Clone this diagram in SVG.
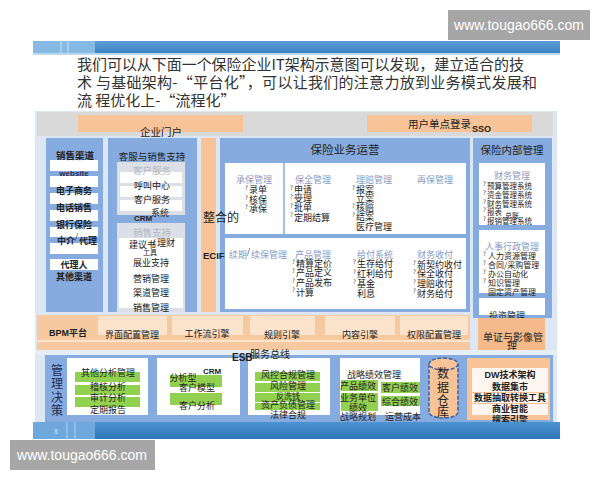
<svg xmlns="http://www.w3.org/2000/svg" width="600" height="480" viewBox="0 0 600 480">
<defs>
<linearGradient id="hdr" x1="0" y1="0" x2="0" y2="1"><stop offset="0" stop-color="#5c9fd8"/><stop offset="1" stop-color="#3a83c5"/></linearGradient>
<linearGradient id="ftr" x1="0" y1="0" x2="0" y2="1"><stop offset="0" stop-color="#4b93d0"/><stop offset="1" stop-color="#2f76b8"/></linearGradient>
</defs>
<style>
text{font-family:"Noto Sans CJK SC","Liberation Sans",sans-serif;fill:#222;font-size:9px}
.c{text-anchor:middle}
.lat{font-family:"Liberation Sans","Noto Sans CJK SC",sans-serif;font-weight:bold}
.blue{fill:#86abdf}
.org{fill:#f8c497}
.wh{fill:#fff}
.lg{fill:#fce3cc}
.grn{fill:#92d050}
.sub{fill:#8a9ac4}
.q{font-size:6px;fill:#333}
.b{font-weight:bold}
.wm{font-family:"Liberation Sans",sans-serif;font-size:14px;fill:#fff}
.ttl{font-size:15px;fill:#333}
</style>
<rect width="600" height="480" fill="#fff"/>

<g id="watermark-top"><rect x="448" y="10" width="142" height="30" fill="#a6a6a6"/><text class="wm c" x="519" y="30">www.tougao666.com</text></g>
<g id="header-bar"><rect x="33" y="41" width="527" height="12" fill="url(#hdr)"/><rect x="33" y="41" width="62" height="12" fill="#86b9e3"/><rect x="60" y="41" width="2" height="12" fill="#a9cdec"/><rect x="67" y="41" width="2" height="12" fill="#a9cdec"/><rect x="33" y="53" width="527" height="2" fill="#bcd8ef"/></g>

<g id="title">
<text class="ttl" x="77" y="70" textLength="447">我们可以从下面一个保险企业IT架构示意图可以发现，建立适合的技</text>
<text class="ttl" x="77" y="88" textLength="460">术 与基础架构-“平台化”，可以让我们的注意力放到业务模式发展和</text>
<text class="ttl" x="77" y="106">流 程优化上-“流程化”</text>
</g>

<rect x="35" y="111" width="522" height="312" fill="#dde7f4"/>
<rect x="37" y="112" width="516" height="24" fill="#d9d9d9"/>

<g id="portal"><rect x="78" y="115" width="165" height="17" class="org"/><text class="c" x="161" y="136" style="font-size:10.5px">企业门户</text></g>
<g id="sso"><rect x="367" y="115" width="165" height="17" class="org"/><text x="408" y="128" style="font-size:10.5px">用户单点登录</text><text class="lat" x="472" y="132" style="font-size:9px">SSO</text></g>

<g id="sales-channels">
<rect x="46" y="138" width="57" height="174" class="blue"/>
<rect x="50" y="160" width="48" height="11" class="wh"/>
<rect x="50" y="176" width="48" height="11" class="wh"/>
<rect x="50" y="193" width="48" height="11" class="wh"/>
<rect x="50" y="210" width="48" height="11" class="wh"/>
<rect x="50" y="227" width="48" height="10" class="wh"/>
<rect x="50" y="243" width="48" height="11" class="wh"/>
<rect x="50" y="259" width="48" height="11" class="wh"/>
<text class="c b" x="75" y="159" style="font-size:9.5px">销售渠道</text>
<text class="c lat" x="74" y="176" style="font-size:8px;fill:#2a2a4a">website</text>
<text class="c b" x="74" y="194">电子商务</text>
<text class="c b" x="74" y="211">电话销售</text>
<text class="c b" x="74" y="228">银行保险</text>
<text class="b" x="57" y="244">中介</text><text x="75" y="239" style="font-size:8px">/</text><text class="b" x="79" y="244">代理</text>
<text class="c b" x="74" y="268">代理人</text>
<text class="c b" x="74" y="280">其他渠道</text>
</g>

<g id="service-support">
<rect x="108" y="138" width="89" height="174" class="blue"/>
<text class="c" x="152" y="160" style="font-size:9.5px">客服与销售支持</text>
<rect x="117" y="162" width="68" height="53" fill="#dcdfe6"/>
<rect x="120" y="172" width="62" height="11" class="wh"/>
<rect x="120" y="186" width="62" height="11" class="wh"/>
<rect x="120" y="200" width="62" height="11" class="wh"/>
<text class="c" x="152" y="174" style="font-size:9.5px;fill:#b3b7c4">客户服务</text>
<text class="c" x="152" y="189">呼叫中心</text>
<text class="c" x="152" y="203">客户服务</text>
<text x="151" y="216">系统</text>
<text class="lat" x="134" y="221" style="font-size:8px">CRM</text>
<rect x="117" y="223" width="68" height="89" fill="#dcdfe6"/>
<text class="c" x="152" y="236" style="font-size:9.5px;fill:#b3b7c4">销售支持</text>
<rect x="119" y="238" width="64" height="70" class="wh"/>
<text x="129" y="248">建议书</text><text x="152" y="246" style="font-size:9px">/</text><text x="143" y="255" style="font-size:7px">工具</text><text x="157" y="246">理财</text>
<text class="c" x="151" y="266">展业支持</text>
<text class="c" x="151" y="282">营销管理</text>
<text class="c" x="151" y="296">渠道管理</text>
<text class="c" x="151" y="311">销售管理</text>
</g>

<g id="ecif-strip">
<rect x="201" y="138" width="15" height="174" class="org"/>
</g>

<g id="insurance-operations">
<rect x="220" y="138" width="250" height="174" class="blue"/>
<text class="c" x="345" y="154" style="font-size:11.5px">保险业务运营</text>
<rect x="225" y="163" width="241" height="71" class="wh"/>
<line x1="284" y1="163" x2="284" y2="234" stroke="#86abdf" stroke-width="1.5"/>
<rect x="225" y="238" width="241" height="71" class="wh"/>

<text class="c sub" x="254" y="183">承保管理</text>
<text class="q" x="245" y="190">?</text><text x="249" y="193">录单</text>
<text class="q" x="245" y="200">?</text><text x="249" y="203">核保</text>
<text class="q" x="245" y="209">?</text><text x="249" y="212">承保</text>

<text class="c sub" x="313" y="183">保全管理</text>
<text class="q" x="290" y="190">?</text><text x="294" y="193">申请</text>
<text class="q" x="290" y="199">?</text><text x="294" y="202">受理</text>
<text class="q" x="290" y="208">?</text><text x="294" y="211">批单</text>
<text class="q" x="290" y="217">?</text><text x="294" y="221">定期结算</text>

<text class="c sub" x="374" y="183">理赔管理</text>
<text class="q" x="352" y="190">?</text><text x="356" y="193">报案</text>
<text x="356" y="202">立案</text>
<text class="q" x="352" y="208">?</text><text x="356" y="211">核赔</text>
<text class="q" x="352" y="217">?</text><text x="356" y="220">结案</text>
<text x="356" y="230">医疗管理</text>

<text class="c sub" x="435" y="183">再保管理</text>

<text class="sub" x="229" y="258">续期</text><text x="247" y="254" style="font-size:8px">/</text><text class="sub" x="251" y="258">续保管理</text>

<text class="c sub" x="313" y="258">产品管理</text>
<text class="q" x="292" y="264">?</text><text x="296" y="267">精算定价</text>
<text class="q" x="292" y="273">?</text><text x="296" y="276">产品定义</text>
<text class="q" x="292" y="283">?</text><text x="296" y="286">产品发布</text>
<text class="q" x="292" y="292">?</text><text x="296" y="296">计算</text>

<text class="c sub" x="375" y="258">给付系统</text>
<text class="q" x="353" y="264">?</text><text x="357" y="267">生存给付</text>
<text class="q" x="353" y="274">?</text><text x="357" y="277">红利给付</text>
<text class="q" x="353" y="284">?</text><text x="357" y="287">基金</text>
<text x="357" y="297">利息</text>

<text class="c sub" x="435" y="258">财务收付</text>
<text class="q" x="413" y="265">?</text><text x="417" y="268">新契约收付</text>
<text class="q" x="413" y="274">?</text><text x="417" y="277">保全收付</text>
<text class="q" x="413" y="284">?</text><text x="417" y="287">理赔收付</text>
<text class="q" x="413" y="293">?</text><text x="417" y="297">财务给付</text>
</g>

<g id="ecif">
<text x="203" y="222" style="font-size:12px">整合的</text>
<text class="lat" x="203" y="259" style="font-size:9.5px">ECIF</text>
</g>

<g id="internal-management">
<rect x="473" y="138" width="79" height="180" class="blue"/>
<text class="c" x="512" y="154" style="font-size:10.5px">保险内部管理</text>
<rect x="479" y="163" width="66" height="62" class="wh"/>
<text class="c sub" x="512" y="179">财务管理</text>
<text class="q" x="483" y="186">?</text><text x="487" y="189" style="font-size:7.5px">预算管理系统</text>
<text class="q" x="483" y="195">?</text><text x="487" y="198" style="font-size:7.5px">资金管理系统</text>
<text class="q" x="483" y="204">?</text><text x="487" y="207" style="font-size:7.5px">财务管理系统</text>
<text class="q" x="483" y="212">?</text><text x="487" y="215" style="font-size:7.5px">报表</text>
<text x="505" y="218" style="font-size:7px">总账</text>
<text class="q" x="483" y="221">?</text><text x="487" y="224" style="font-size:7.5px">报销管理系统</text>
<rect x="479" y="230" width="66" height="63" class="wh"/>
<text class="c sub" x="512" y="250">人事行政管理</text>
<text class="q" x="483" y="256">?</text><text x="488" y="259" style="font-size:8px">人力资源管理</text>
<text class="q" x="483" y="265">?</text><text x="488" y="268" style="font-size:8px">合同/采购管理</text>
<text class="q" x="483" y="274">?</text><text x="488" y="277" style="font-size:8px">办公自动化</text>
<text class="q" x="483" y="283">?</text><text x="488" y="286" style="font-size:8px">知识管理</text>
<text x="488" y="295" style="font-size:8px">固定资产管理</text>
<rect x="479" y="298" width="66" height="17" class="wh"/>
<text class="c" x="507" y="319">投资管理</text>
</g>

<g id="document-imaging">
<rect x="478" y="318" width="67" height="32" fill="#f6b98a"/>
<text class="c" x="513" y="341" style="font-size:10px">单证与影像管</text>
<text class="c" x="512" y="350" style="font-size:10px">理</text>
</g>

<g id="bpm">
<rect x="37" y="315" width="433" height="35" fill="#f7c9a0"/>
<rect x="98" y="316" width="69" height="19" class="lg"/>
<rect x="172" y="316" width="71" height="19" class="lg"/>
<rect x="250" y="316" width="65" height="19" class="lg"/>
<rect x="325" y="316" width="70" height="19" class="lg"/>
<rect x="400" y="316" width="68" height="19" class="lg"/>
<rect x="37" y="340" width="433" height="2" class="lg"/>
<text class="lat" x="49" y="336" style="font-size:9px">BPM<tspan style="font-family:'Noto Sans CJK SC',sans-serif">平台</tspan></text>
<text class="c" x="132" y="338">界面配置管理</text>
<text class="c" x="207" y="337">工作流引擎</text>
<text class="c" x="282" y="338">规则引擎</text>
<text class="c" x="360" y="338">内容引擎</text>
<text class="c" x="434" y="338">权限配置管理</text>
</g>

<rect x="35" y="350" width="522" height="5" fill="#e6eef8"/>

<g id="decision">
<rect x="45" y="355" width="508" height="67" class="blue"/>
<text class="c" x="57" y="375" style="font-size:12px;fill:#1c2b55">管</text>
<text class="c" x="57" y="388" style="font-size:12px;fill:#1c2b55">理</text>
<text class="c" x="57" y="402" style="font-size:12px;fill:#1c2b55">决</text>
<text class="c" x="57" y="415" style="font-size:12px;fill:#1c2b55">策</text>
</g>

<g id="analysis">
<rect x="67" y="358" width="81" height="57" class="wh"/>
<rect x="75" y="372" width="65" height="10" class="grn"/>
<rect x="75" y="385" width="65" height="10" class="grn"/>
<rect x="75" y="397" width="65" height="10" class="grn"/>
<text class="c" x="108" y="376">其他分析管理</text>
<text class="c" x="108" y="390">稽核分析</text>
<text class="c" x="108" y="401">审计分析</text>
<text class="c" x="108" y="413">定期报告</text>
</g>

<g id="crm-analysis">
<rect x="157" y="358" width="83" height="57" class="wh"/>
<text class="lat" x="203" y="374" style="font-size:8px">CRM</text>
<rect x="170" y="375" width="52" height="12" class="grn"/>
<rect x="170" y="393" width="52" height="12" class="grn"/>
<text class="c" x="183" y="381">分析型</text>
<text class="c" x="197" y="391">客户模型</text>
<text class="c" x="197" y="409">客户分析</text>
</g>

<g id="risk">
<rect x="248" y="358" width="82" height="57" class="wh"/>
<rect x="255" y="372" width="65" height="9" class="grn"/>
<rect x="255" y="383" width="65" height="9" class="grn"/>
<rect x="255" y="393" width="65" height="9" class="grn"/>
<rect x="255" y="403" width="65" height="7" class="grn"/>
<text class="c" x="288" y="378">风控合规管理</text>
<text class="c" x="288" y="389">风险管理</text>
<text class="c" x="288" y="399" style="font-size:8px">反洗钱</text>
<text class="c" x="288" y="408">资产负债管理</text>
<text class="c" x="288" y="418">法律合规</text>
</g>

<g id="esb">
<text class="lat" x="232" y="361" style="font-size:10px">ESB</text>
<text x="250" y="358" style="font-size:10px">服务总线</text>
</g>

<g id="performance">
<rect x="340" y="358" width="80" height="57" class="wh"/>
<rect x="341" y="380" width="37" height="11" class="grn"/>
<rect x="341" y="393" width="37" height="18" class="grn"/>
<rect x="381" y="382" width="39" height="11" class="grn"/>
<rect x="381" y="396" width="39" height="10" class="grn"/>
<text x="347" y="378">战略绩效管理</text>
<text class="c" x="358" y="389">产品绩效</text>
<text class="c" x="400" y="391">客户绩效</text>
<text class="c" x="358" y="401">业务单位</text>
<text class="c" x="400" y="405">综合绩效</text>
<text class="c" x="358" y="411">绩效</text>
<text class="c" x="358" y="420">战略规划</text>
<text class="c" x="403" y="420">运营成本</text>
</g>

<g id="data-warehouse">
<path d="M429,364 v48 a14.5,6 0 0 0 29,0 v-48" fill="#f8c497" stroke="#3f61a0" stroke-width="1.5" stroke-dasharray="4 1.5"/>
<ellipse cx="443.5" cy="364" rx="14.5" ry="6" fill="#f8c497" stroke="#3f61a0" stroke-width="1.5" stroke-dasharray="4 1.5"/>
<text class="c" x="443" y="378" style="font-size:12px">数</text>
<text class="c" x="443" y="392" style="font-size:12px">据</text>
<text class="c" x="443" y="405" style="font-size:12px">仓</text>
<text class="c" x="443" y="417" style="font-size:12px">库</text>
</g>

<g id="dw">
<rect x="467" y="358" width="83" height="62" class="org"/>
<rect x="472" y="368" width="76" height="47" fill="#fff" opacity="0.85"/>
<rect x="472" y="392" width="76" height="1" class="org"/>
<rect x="472" y="403" width="76" height="1" class="org"/>
<text class="c b" x="510" y="378"><tspan class="lat">DW</tspan>技术架构</text>
<text class="c b" x="510" y="390">数据集市</text>
<text class="c b" x="510" y="401">数据抽取转换工具</text>
<text class="c b" x="510" y="412">商业智能</text>
<text class="c b" x="510" y="423">搜索引擎</text>
</g>

<g id="footer">
<rect x="33" y="422" width="527" height="17" fill="url(#ftr)"/>
<rect x="33" y="422" width="62" height="17" fill="#6fa8dc"/>
<rect x="66" y="422" width="2" height="17" fill="#8fbde6"/>
<rect x="74" y="422" width="2" height="17" fill="#8fbde6"/>
<text x="54" y="434" style="font-size:7px;fill:#d5e6f6">8</text>
</g>

<g id="watermark-bottom"><rect x="10" y="440" width="145" height="30" fill="#a6a6a6"/><text class="wm c" x="82" y="460">www.tougao666.com</text></g>
<g id="connectors"/>
</svg>
